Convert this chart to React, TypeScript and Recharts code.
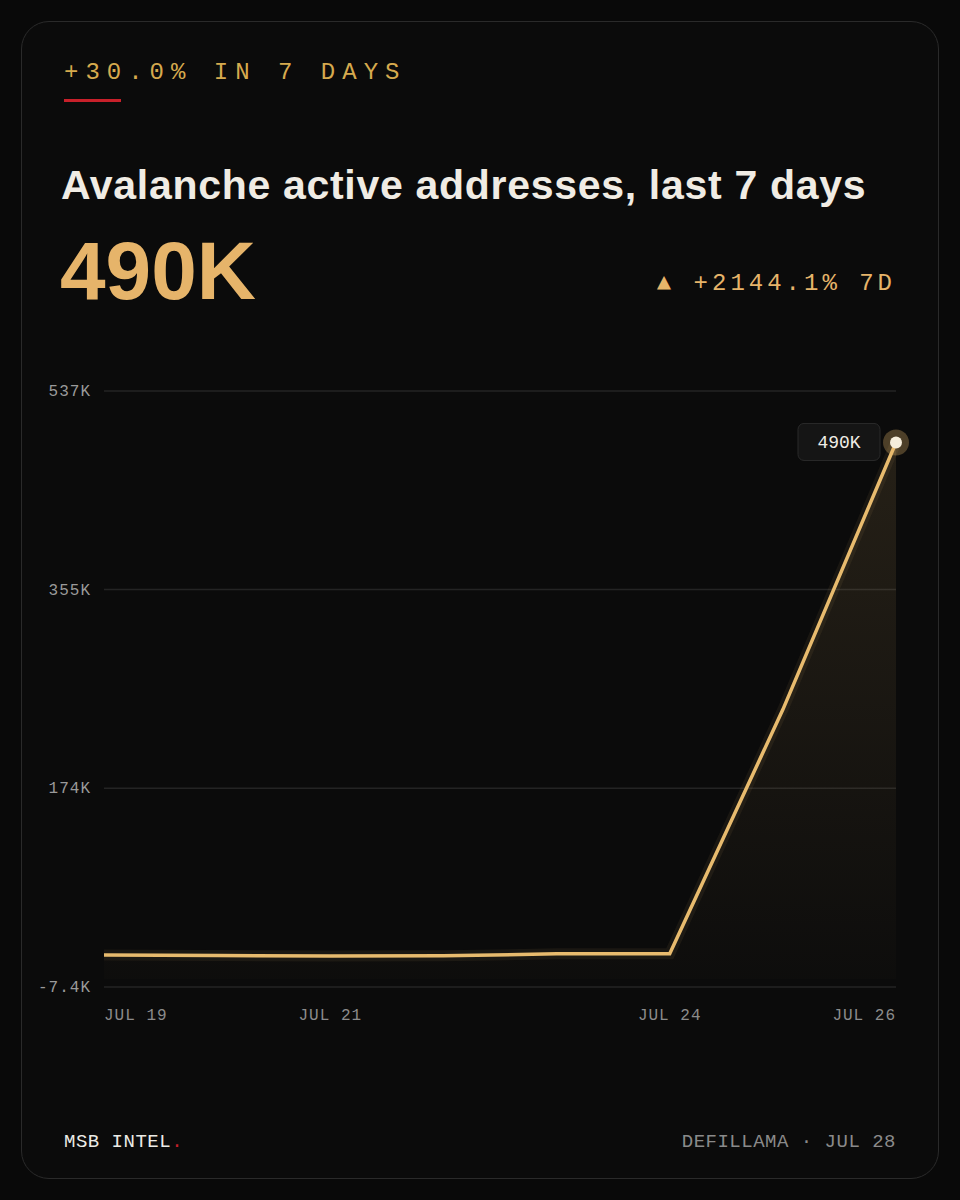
import React from "react";
import { ComposedChart, Area, Line, XAxis, YAxis, CartesianGrid } from "recharts";

// daily active addresses on Avalanche, JUL 19 - JUL 26
const dayNums = [19, 20, 21, 22, 23, 24, 25, 26];
const activeAddresses = [21840, 21300, 21000, 21100, 22900, 23000, 246000, 490000];
const xTicks = [19, 21, 24, 26];
const yTicks = [-7400, 174100, 355600, 537000];
const yTickLabels = ["-7.4K", "174K", "355K", "537K"];

const data = dayNums.map((d, i) => ({ day: d, value: activeAddresses[i] }));

const GOLD = "#e8bb6e";
const MONO = "'Liberation Mono', 'DejaVu Sans Mono', monospace";
const SANS = "'Liberation Sans', Arial, sans-serif";

const XTick = (props: any) => {
  const { x, y, payload } = props;
  const v = payload.value;
  const anchor = v === xTicks[0] ? "start" : v === xTicks[xTicks.length - 1] ? "end" : "middle";
  return (
    <text x={x} y={y} dy={33} textAnchor={anchor} fill="#8c8c8c" fontSize={16} fontFamily={MONO} letterSpacing={1}>
      {"JUL " + v}
    </text>
  );
};

const YTick = (props: any) => {
  const { x, y, payload } = props;
  const idx = yTicks.indexOf(payload.value);
  return (
    <text x={x} y={y} dx={-13} dy={5} textAnchor="end" fill="#9a9a9a" fontSize={16} fontFamily={MONO} letterSpacing={1}>
      {yTickLabels[idx]}
    </text>
  );
};

const renderDot = (props: any) => {
  const { cx, cy, index } = props;
  if (index !== data.length - 1) return <g key={"d" + index} />;
  return (
    <g key={"d" + index}>
      <rect x={cx - 98} y={cy - 19} width={82} height={37} rx={6} fill="#151515" stroke="#2a2a2a" />
      <text x={cx - 57} y={cy + 6} textAnchor="middle" fill="#f0ede6" fontSize={18} fontFamily={MONO}>
        490K
      </text>
      <circle cx={cx} cy={cy} r={13} fill="rgba(232,187,110,0.3)" />
      <circle cx={cx} cy={cy} r={6} fill="#f6eedc" />
    </g>
  );
};

export default function App() {
  return (
    <div style={{ position: "absolute", left: 0, top: 0, width: 960, height: 1200, background: "#090909", fontFamily: SANS }}>
      <div
        style={{
          position: "absolute",
          left: 21,
          top: 21,
          width: 916,
          height: 1156,
          borderRadius: 28,
          border: "1px solid #2a2a2a",
          background: "#0b0b0b",
        }}
      />
      <div style={{ position: "absolute", left: 64, top: 58, color: "#d6aa4e", fontFamily: MONO, fontSize: 24, letterSpacing: 7, lineHeight: "30px" }}>
        +30.0% IN 7 DAYS
      </div>
      <div style={{ position: "absolute", left: 64, top: 99, width: 57, height: 3, background: "#c8202a" }} />
      <div style={{ position: "absolute", left: 61, top: 162, color: "#f0ece4", fontSize: 41, fontWeight: 700, letterSpacing: 0.7, lineHeight: "46px" }}>
        Avalanche active addresses, last 7 days
      </div>
      <div style={{ position: "absolute", left: 60, top: 225, color: "#e6b46a", fontSize: 82, fontWeight: 700, lineHeight: "92px" }}>
        490K
      </div>
      <div style={{ position: "absolute", right: 64, top: 268, color: "#e6b46a", fontFamily: MONO, fontSize: 24, letterSpacing: 4, lineHeight: "32px", textAlign: "right" }}>
        ▲ +2144.1% 7D
      </div>

      <div style={{ position: "absolute", left: 0, top: 370 }}>
        <ComposedChart width={960} height={680} data={data} margin={{ top: 21, right: 64, left: 44, bottom: 33 }}>
          <defs>
            <linearGradient id="fillGold" x1="0" y1="0" x2="0" y2="1">
              <stop offset="0%" stopColor={GOLD} stopOpacity={0.2} />
              <stop offset="100%" stopColor={GOLD} stopOpacity={0.02} />
            </linearGradient>
          </defs>
          <CartesianGrid vertical={false} stroke="#242424" strokeWidth={1.5} />
          <XAxis
            dataKey="day"
            type="number"
            domain={[19, 26]}
            ticks={xTicks}
            axisLine={false}
            tickLine={false}
            tickSize={0}
            tickMargin={0}
            height={30}
            tick={<XTick />}
            interval={0}
          />
          <YAxis
            type="number"
            domain={[-7400, 537000]}
            ticks={yTicks}
            axisLine={false}
            tickLine={false}
            tickSize={0}
            tickMargin={0}
            width={60}
            tick={<YTick />}
            interval={0}
          />
          <Area type="linear" dataKey="value" stroke="none" fill="url(#fillGold)" isAnimationActive={false} />
          <Line type="linear" dataKey="value" stroke={GOLD} strokeOpacity={0.07} strokeWidth={11} dot={false} activeDot={false} isAnimationActive={false} />
          <Line type="linear" dataKey="value" stroke={GOLD} strokeWidth={3.5} dot={renderDot} activeDot={false} isAnimationActive={false} />
        </ComposedChart>
      </div>

      <div style={{ position: "absolute", left: 64, top: 1129, color: "#ecebe6", fontFamily: MONO, fontSize: 19, lineHeight: "26px", letterSpacing: 0.5 }}>
        MSB INTEL<span style={{ color: "#c8202a" }}>.</span>
      </div>
      <div style={{ position: "absolute", right: 64, top: 1129, color: "#8a8a8a", fontFamily: MONO, fontSize: 19, lineHeight: "26px", letterSpacing: 0.5 }}>
        DEFILLAMA · JUL 28
      </div>
    </div>
  );
}
